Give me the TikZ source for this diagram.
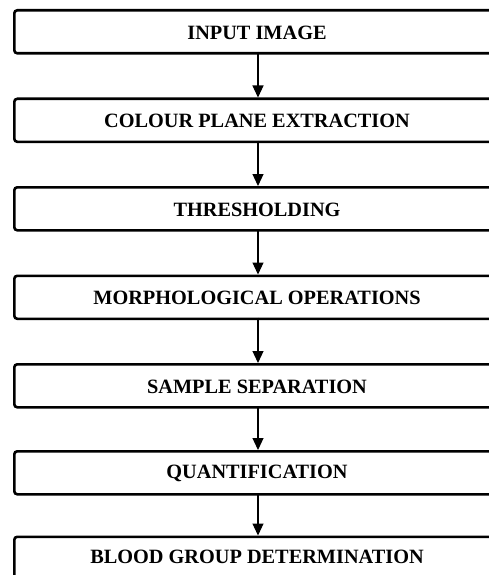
\documentclass[tikz,border=0pt]{standalone}
\usepackage{fontspec}
\setmainfont{Liberation Serif}
\usetikzlibrary{arrows.meta}
\begin{document}
\begin{tikzpicture}[x=1pt,y=1pt,
  stepbox/.style={draw=black,line width=2.6pt,rounded corners=3pt,minimum width=490pt,minimum height=43pt,inner sep=0pt,anchor=north west},
  label/.style={font=\fontsize{20.3}{21}\selectfont\bfseries,inner sep=0pt},
  flow/.style={line width=1.2pt,-{Triangle[length=12pt,width=11pt]}}]
\clip (0,0) rectangle (489,-575);
\useasboundingbox (0,0) rectangle (489,-575);
\fill[white] (0,0) rectangle (489,-575);
\node[stepbox] (b1) at (13,-9) {};
\node[stepbox] (b2) at (13,-97.5) {};
\node[stepbox] (b3) at (13,-186) {};
\node[stepbox] (b4) at (13,-274.5) {};
\node[stepbox] (b5) at (13,-363) {};
\node[stepbox] (b6) at (13,-450) {};
\node[stepbox] (b7) at (13,-535.5) {};
\node[label] (t1) at (257,-32.5) {INPUT IMAGE};
\node[label] (t2) at (257,-121) {COLOUR PLANE EXTRACTION};
\node[label] (t3) at (257,-209.5) {THRESHOLDING};
\node[label] (t4) at (257,-298) {MORPHOLOGICAL OPERATIONS};
\node[label] (t5) at (257,-386.5) {SAMPLE SEPARATION};
\node[label] (t6) at (257,-473.5) {QUANTIFICATION};
\node[label] (t7) at (257,-557) {BLOOD GROUP DETERMINATION};
\coordinate (a1) at (258,-52);
\coordinate (a2) at (258,-140.5);
\coordinate (a3) at (258,-229);
\coordinate (a4) at (258,-317.5);
\coordinate (a5) at (258,-406);
\coordinate (a6) at (258,-493);
\draw[flow] (a1) -- (a1 |- b2.north);
\draw[flow] (a2) -- (a2 |- b3.north);
\draw[flow] (a3) -- (a3 |- b4.north);
\draw[flow] (a4) -- (a4 |- b5.north);
\draw[flow] (a5) -- (a5 |- b6.north);
\draw[flow] (a6) -- (a6 |- b7.north);
\end{tikzpicture}
\end{document}
